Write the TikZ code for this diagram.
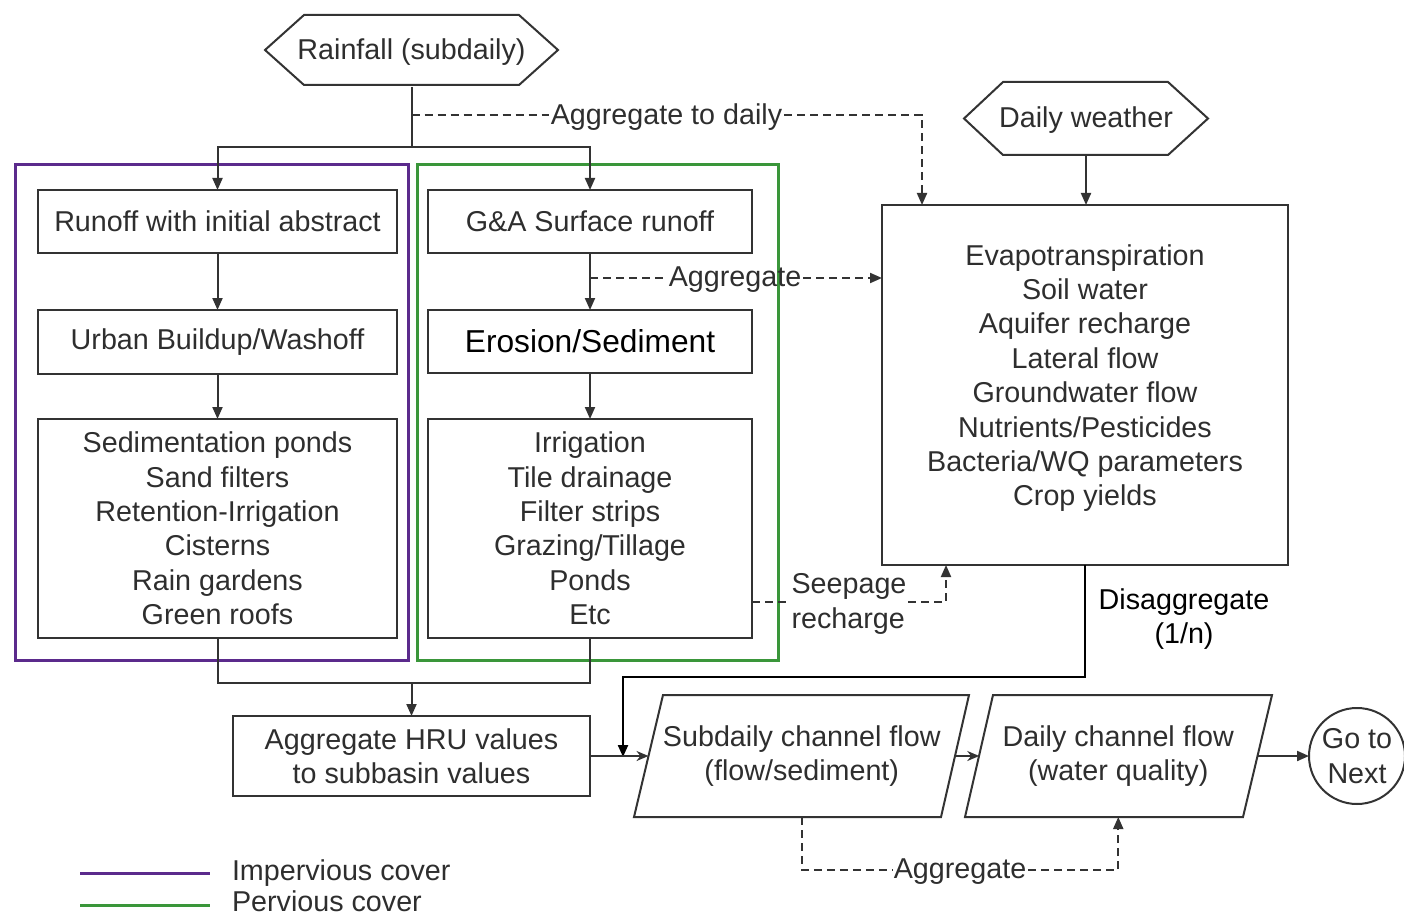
\documentclass[tikz,border=0pt]{standalone}
\usepackage{fontspec}
\setmainfont{Liberation Sans}
\usetikzlibrary{arrows.meta}
\definecolor{txt}{HTML}{2E2E2E}
\definecolor{purp}{HTML}{5B2A8C}
\definecolor{grn}{HTML}{3A963A}
\definecolor{edge}{HTML}{333333}
\begin{document}
\begin{tikzpicture}[x=1pt,y=-1pt,
  every node/.style={font=\fontsize{28.7}{34.4}\selectfont, text=txt, align=center, inner sep=0pt, outer sep=0pt},
  box/.style={draw=edge, line width=2.3pt, rectangle},
  ln/.style={draw=edge, line width=2pt},
  tip/.style={-{Triangle[length=12pt,width=10pt]}},
  arr/.style={ln, tip},
  arrs/.style={ln, -{Stealth[length=12pt,width=10pt]}},
  dsh/.style={ln, dash pattern=on 8pt off 5pt},
  lbl/.style={inner xsep=2pt}]
\useasboundingbox (0,0) rectangle (1404,917);

% coloured groups
\draw[purp, line width=3pt] (15,165) rectangle (408,660);
\draw[grn, line width=3pt] (417,165) rectangle (778,660);

% inputs
\node[minimum width=293pt, minimum height=70pt] (rain) at (411.5,52) {Rainfall (subdaily)};
\draw[ln] (265,50) -- (304,15) -- (519,15) -- (558,50) -- (519,85) -- (304,85) -- cycle;
\node[minimum width=244pt, minimum height=73pt] (weather) at (1086,120) {Daily weather};
\draw[ln] (964,118.5) -- (1003,82) -- (1168,82) -- (1208,118.5) -- (1168,155) -- (1003,155) -- cycle;

% left column (impervious)
\node[box, minimum width=359pt, minimum height=63pt] (runoff) at (217.5,221.5) {Runoff with initial abstract};
\node[box, minimum width=359pt, minimum height=64pt] (urban) at (217.5,342) {Urban Buildup/Washoff};
\node[box, minimum width=359pt, minimum height=219pt] (lbig) at (217.5,528.5) {Sedimentation ponds\\Sand filters\\Retention-Irrigation\\Cisterns\\Rain gardens\\Green roofs};

% right column (pervious)
\node[box, minimum width=324pt, minimum height=63pt] (ga) at (590,221.5) {G\&A Surface runoff};
\node[box, minimum width=324pt, minimum height=63pt, text=black, font=\fontsize{31.7}{36}\selectfont] (ero) at (590,341.5) {Erosion/Sediment};
\node[box, minimum width=324pt, minimum height=219pt] (rbig) at (590,528.5) {Irrigation\\Tile drainage\\Filter strips\\Grazing/Tillage\\Ponds\\Etc};

% daily processes
\node[box, minimum width=406pt, minimum height=360pt] (evap) at (1085,385) {};
\node (evaptxt) at (1085,378) {Evapotranspiration\\Soil water\\Aquifer recharge\\Lateral flow\\Groundwater flow\\Nutrients/Pesticides\\Bacteria/WQ parameters\\Crop yields};

% subbasin aggregation
\node[box, minimum width=357pt, minimum height=80pt] (hru) at (411.5,756) {Aggregate HRU values\\to subbasin values};

% channel routing
\node[minimum width=306.5pt, minimum height=122pt] (sub) at (801.75,756) {Subdaily channel flow\\(flow/sediment)};
\draw[ln] (663,695) -- (969,695) -- (941,817) -- (634,817) -- cycle;
\node[minimum width=278pt, minimum height=122pt] (daily) at (1118.25,756) {Daily channel flow\\(water quality)};
\draw[ln] (993,695) -- (1272,695) -- (1243,817) -- (965,817) -- cycle;
\node[circle, draw=edge, line width=2pt, minimum size=96pt] (next) at (1357,756) {Go to\\Next};

% rainfall split
\coordinate (split) at (411.5,147);
\draw[ln] (rain.south) -- (split);
\draw[arr] (split) -| (runoff.north);
\draw[arr] (split) -| (ga.north);

% aggregate to daily
\coordinate (aggstart) at (411.5,115);
\node[lbl] (aggd) at (666.5,117) {Aggregate to daily};
\draw[dsh] (aggstart) -- (aggstart -| aggd.west);
\draw[dsh, tip] (aggstart -| aggd.east) -| ([xshift=40pt]evap.north west);
\draw[arr] (weather.south) -- (weather.south |- evap.north);

% column flows
\draw[arr] (runoff) -- (urban);
\draw[arr] (urban) -- (lbig);
\draw[arr] (ga) -- (ero);
\draw[arr] (ero) -- (rbig);

% aggregate from surface runoff
\coordinate (agg1y) at (590,278);
\node[lbl] (agg1) at (735,280) {Aggregate};
\draw[dsh] (agg1y) -- (agg1y -| agg1.west);
\draw[dsh, tip] (agg1y -| agg1.east) -- (agg1y -| evap.west);

% seepage recharge
\node[align=left, lbl] (seep) at (849,604) {Seepage\\recharge};
\coordinate (seepy) at (752,602);
\draw[dsh] (seepy) -- (seepy -| seep.west);
\draw[dsh, tip] (seepy -| seep.east) -| ([xshift=64pt]evap.south west);

% merge of HRUs
\coordinate (merge) at (411.5,683);
\draw[ln] (lbig.south) |- (merge) -| (rbig.south);
\draw[arr] (merge) -- (hru.north);

% disaggregate
\coordinate (dturn) at (1085,677);
\coordinate (din) at (623,757);
\draw[ln, draw=black, line width=2.2pt, tip] (evap.south) -- (dturn) -| (din);
\node[text=black] (dis) at (1184,619) {Disaggregate\\(1/n)};

% channel connections
\draw[arrs] (hru.east) -- (sub.west);
\draw[arrs] (sub.east) -- (daily.west);
\draw[arr] (daily.east) -- (next.west);

% aggregate back to daily
\coordinate (agg2y) at (960,870);
\node[lbl] (agg2) at (960,872) {Aggregate};
\draw[dsh] (sub.south) |- (agg2y -| agg2.west);
\draw[dsh, tip] (agg2y -| agg2.east) -| (daily.south);

% legend
\node[anchor=west] (leg1) at (232,873) {Impervious cover};
\node[anchor=west] (leg2) at (232,901) {Pervious cover};
\draw[purp, line width=3pt] ([xshift=-152pt]leg1.west |- 0,873) -- ([xshift=-22pt]leg1.west |- 0,873);
\draw[grn, line width=3pt] ([xshift=-152pt]leg2.west |- 0,905) -- ([xshift=-22pt]leg2.west |- 0,905);
\end{tikzpicture}
\end{document}
